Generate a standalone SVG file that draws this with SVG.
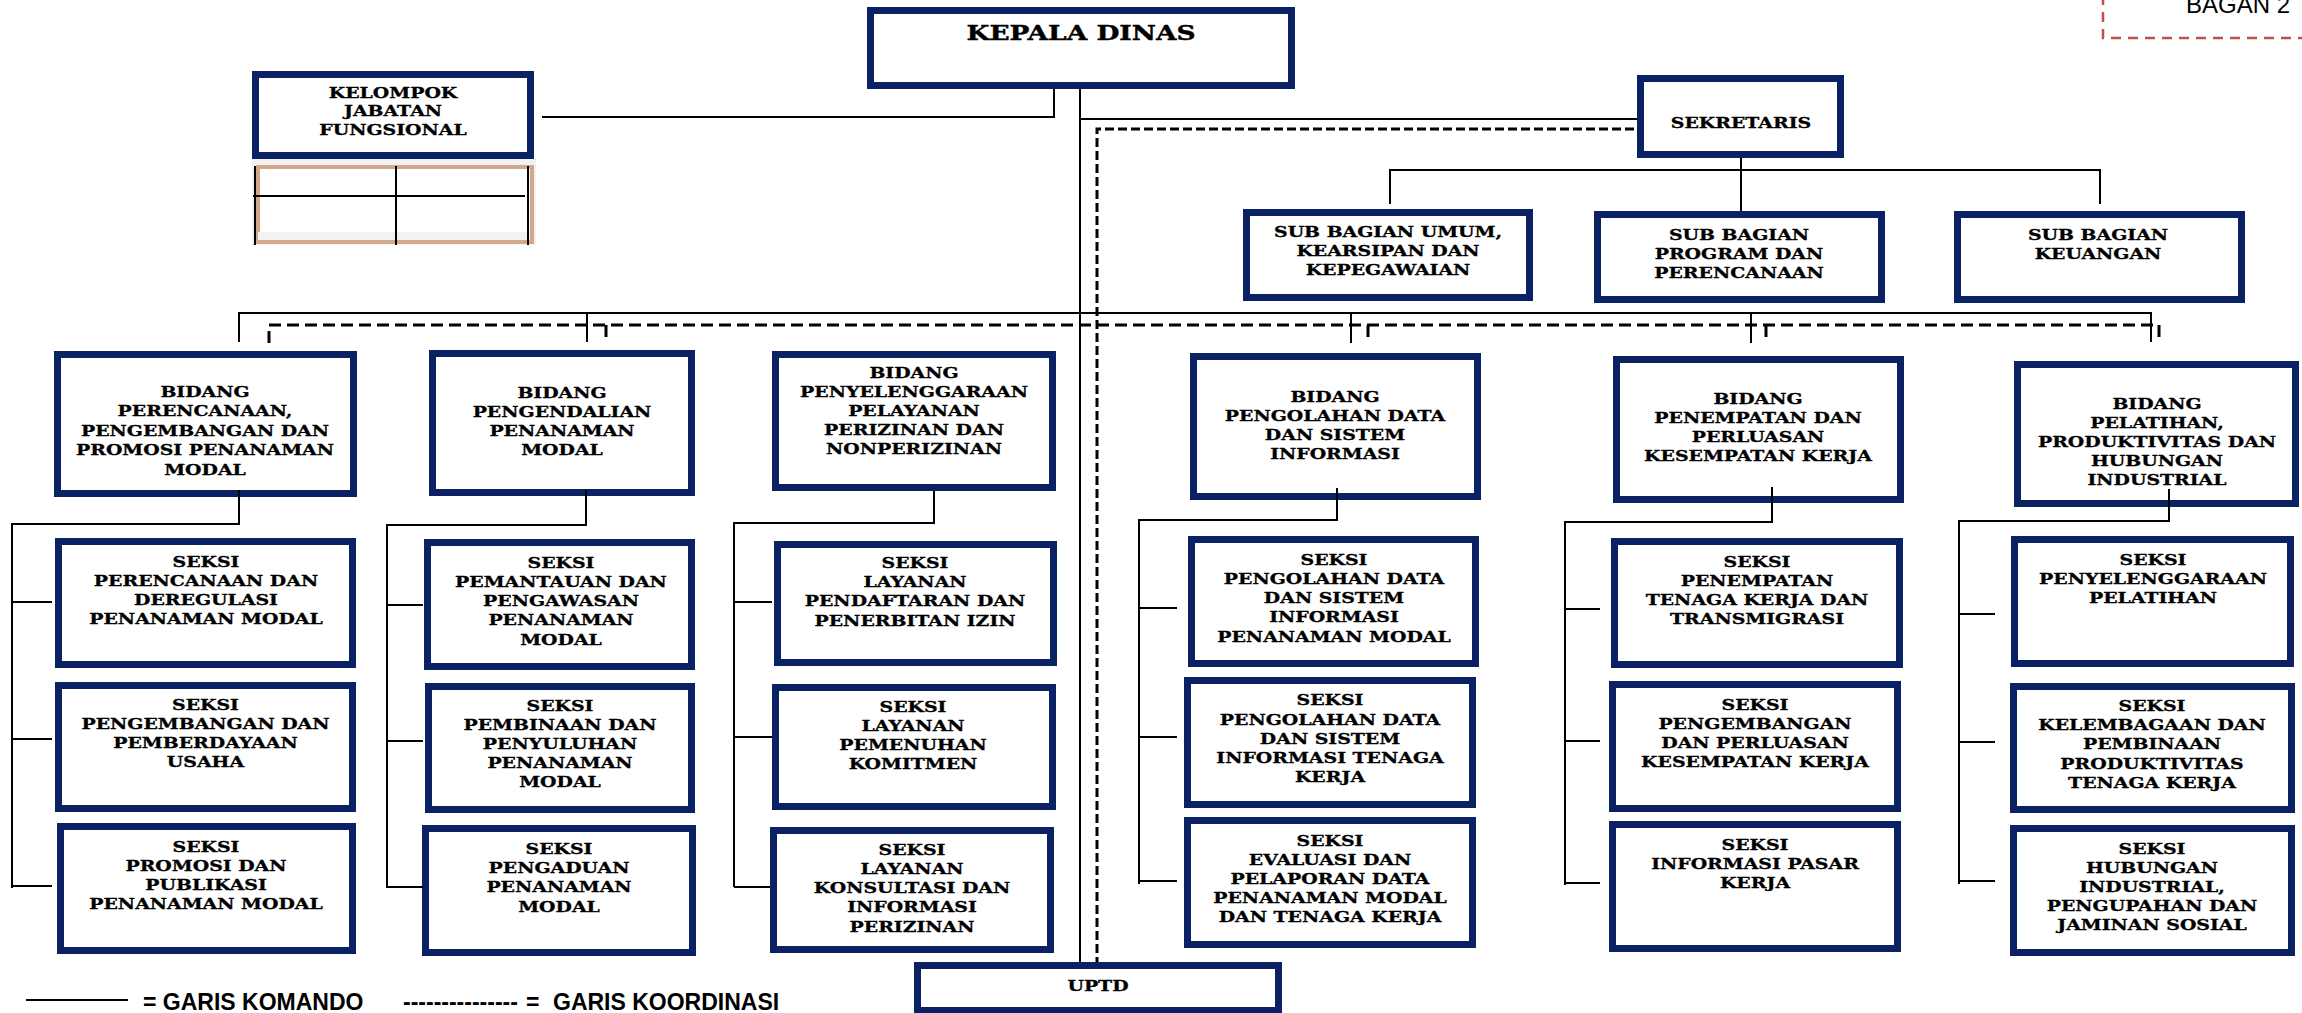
<svg xmlns="http://www.w3.org/2000/svg" width="2302" height="1013" viewBox="0 0 2302 1013">
<style>
.box{fill:#fff;stroke:#0a2263;stroke-width:7}
.n{font-family:"DejaVu Serif","Liberation Serif",serif;font-weight:bold;font-size:15px;text-anchor:middle;fill:#000;stroke:#000;stroke-width:0.3}
.big{font-size:21px;stroke-width:0.4}
.c{fill:none;stroke:#000;stroke-width:2}
.d{fill:none;stroke:#000;stroke-width:3;stroke-dasharray:9 4}
.d2{fill:none;stroke:#000;stroke-width:3;stroke-dasharray:12 6}
.lg{font-family:"Liberation Sans",Arial,sans-serif;font-weight:bold;font-size:23px;fill:#000}
</style>
<rect width="2302" height="1013" fill="#fff"/>

<g id="bagan-label">
<path d="M2103,-5 V38 H2310" fill="none" stroke="#c0504d" stroke-width="2.5" stroke-dasharray="10 7"/>
<text x="2186" y="13" font-family="Liberation Sans,Arial,sans-serif" font-size="24" fill="#000">BAGAN 2</text>
</g>

<g id="kepala-dinas">
<rect class="box" x="870.5" y="10.5" width="421" height="75"/>
<text class="n big" transform="matrix(1.26 0 0 1 1081 0)"><tspan x="0" y="40">KEPALA DINAS</tspan></text>
</g>

<g id="kelompok-jabatan-fungsional">
<rect class="box" x="255.5" y="74.5" width="275" height="81"/>
<text class="n" transform="matrix(1.26 0 0 1 393 0)"><tspan x="0" y="98">KELOMPOK</tspan><tspan x="0" y="116.5">JABATAN</tspan><tspan x="0" y="135">FUNGSIONAL</tspan></text>
<rect x="252" y="159" width="284" height="86" fill="#f2f2f2"/>
<rect x="258" y="167" width="274" height="75" fill="#fff" stroke="#d2a88a" stroke-width="4"/>
<rect x="258" y="232" width="272" height="8" fill="#f2f2f2"/>
<path d="M255,166 V245 M396,166 V245 M528,166 V245 M253,196 H525" fill="none" stroke="#000" stroke-width="2"/>
</g>

<g id="sekretaris">
<rect class="box" x="1640.5" y="78.5" width="200" height="76"/>
<text class="n" transform="matrix(1.26 0 0 1 1741 0)"><tspan x="0" y="128">SEKRETARIS</tspan></text>
</g>

<g id="sub-bagian-umum">
<rect class="box" x="1246.5" y="212.5" width="283" height="85"/>
<text class="n" transform="matrix(1.26 0 0 1 1388 0)"><tspan x="0" y="237">SUB BAGIAN UMUM,</tspan><tspan x="0" y="256">KEARSIPAN DAN</tspan><tspan x="0" y="275">KEPEGAWAIAN</tspan></text>
</g>
<g id="sub-bagian-program">
<rect class="box" x="1597.5" y="214.5" width="284" height="85"/>
<text class="n" transform="matrix(1.26 0 0 1 1739 0)"><tspan x="0" y="240">SUB BAGIAN</tspan><tspan x="0" y="259">PROGRAM DAN</tspan><tspan x="0" y="278">PERENCANAAN</tspan></text>
</g>
<g id="sub-bagian-keuangan">
<rect class="box" x="1957.5" y="214.5" width="284" height="85"/>
<text class="n" transform="matrix(1.26 0 0 1 2098 0)"><tspan x="0" y="240">SUB BAGIAN</tspan><tspan x="0" y="259">KEUANGAN</tspan></text>
</g>

<g id="bidang-1">
<rect class="box" x="57.5" y="354.5" width="296" height="139"/>
<text class="n" transform="matrix(1.26 0 0 1 205 0)"><tspan x="0" y="397">BIDANG</tspan><tspan x="0" y="416.5">PERENCANAAN,</tspan><tspan x="0" y="436">PENGEMBANGAN DAN</tspan><tspan x="0" y="455.5">PROMOSI PENANAMAN</tspan><tspan x="0" y="475">MODAL</tspan></text>
</g>
<g id="bidang-2">
<rect class="box" x="432.5" y="353.5" width="259" height="139"/>
<text class="n" transform="matrix(1.26 0 0 1 562 0)"><tspan x="0" y="398">BIDANG</tspan><tspan x="0" y="417">PENGENDALIAN</tspan><tspan x="0" y="436">PENANAMAN</tspan><tspan x="0" y="455">MODAL</tspan></text>
</g>
<g id="bidang-3">
<rect class="box" x="775.5" y="354.5" width="277" height="133"/>
<text class="n" transform="matrix(1.26 0 0 1 914 0)"><tspan x="0" y="378">BIDANG</tspan><tspan x="0" y="397">PENYELENGGARAAN</tspan><tspan x="0" y="416">PELAYANAN</tspan><tspan x="0" y="435">PERIZINAN DAN</tspan><tspan x="0" y="454">NONPERIZINAN</tspan></text>
</g>
<g id="bidang-4">
<rect class="box" x="1193.5" y="356.5" width="284" height="140"/>
<text class="n" transform="matrix(1.26 0 0 1 1335 0)"><tspan x="0" y="402">BIDANG</tspan><tspan x="0" y="421">PENGOLAHAN DATA</tspan><tspan x="0" y="440">DAN SISTEM</tspan><tspan x="0" y="459">INFORMASI</tspan></text>
</g>
<g id="bidang-5">
<rect class="box" x="1616.5" y="359.5" width="284" height="140"/>
<text class="n" transform="matrix(1.26 0 0 1 1758 0)"><tspan x="0" y="404">BIDANG</tspan><tspan x="0" y="423">PENEMPATAN DAN</tspan><tspan x="0" y="442">PERLUASAN</tspan><tspan x="0" y="461">KESEMPATAN KERJA</tspan></text>
</g>
<g id="bidang-6">
<rect class="box" x="2017.5" y="364.5" width="278" height="139"/>
<text class="n" transform="matrix(1.26 0 0 1 2157 0)"><tspan x="0" y="409">BIDANG</tspan><tspan x="0" y="428">PELATIHAN,</tspan><tspan x="0" y="447">PRODUKTIVITAS DAN</tspan><tspan x="0" y="466">HUBUNGAN</tspan><tspan x="0" y="485">INDUSTRIAL</tspan></text>
</g>

<g id="seksi-1a">
<rect class="box" x="58.5" y="541.5" width="294" height="123"/>
<text class="n" transform="matrix(1.26 0 0 1 206 0)"><tspan x="0" y="567">SEKSI</tspan><tspan x="0" y="586">PERENCANAAN DAN</tspan><tspan x="0" y="605">DEREGULASI</tspan><tspan x="0" y="624">PENANAMAN MODAL</tspan></text>
</g>
<g id="seksi-1b">
<rect class="box" x="58.5" y="685.5" width="294" height="123"/>
<text class="n" transform="matrix(1.26 0 0 1 205.5 0)"><tspan x="0" y="710">SEKSI</tspan><tspan x="0" y="729">PENGEMBANGAN DAN</tspan><tspan x="0" y="748">PEMBERDAYAAN</tspan><tspan x="0" y="767.5">USAHA</tspan></text>
</g>
<g id="seksi-1c">
<rect class="box" x="60.5" y="826.5" width="292" height="124"/>
<text class="n" transform="matrix(1.26 0 0 1 206 0)"><tspan x="0" y="852">SEKSI</tspan><tspan x="0" y="871">PROMOSI DAN</tspan><tspan x="0" y="890">PUBLIKASI</tspan><tspan x="0" y="909">PENANAMAN MODAL</tspan></text>
</g>

<g id="seksi-2a">
<rect class="box" x="427.5" y="542.5" width="264" height="124"/>
<text class="n" transform="matrix(1.26 0 0 1 561 0)"><tspan x="0" y="568">SEKSI</tspan><tspan x="0" y="587">PEMANTAUAN DAN</tspan><tspan x="0" y="606">PENGAWASAN</tspan><tspan x="0" y="625.5">PENANAMAN</tspan><tspan x="0" y="645">MODAL</tspan></text>
</g>
<g id="seksi-2b">
<rect class="box" x="428.5" y="686.5" width="263" height="123"/>
<text class="n" transform="matrix(1.26 0 0 1 560 0)"><tspan x="0" y="711">SEKSI</tspan><tspan x="0" y="730">PEMBINAAN DAN</tspan><tspan x="0" y="749">PENYULUHAN</tspan><tspan x="0" y="768.5">PENANAMAN</tspan><tspan x="0" y="787.5">MODAL</tspan></text>
</g>
<g id="seksi-2c">
<rect class="box" x="425.5" y="828.5" width="267" height="124"/>
<text class="n" transform="matrix(1.26 0 0 1 559 0)"><tspan x="0" y="854">SEKSI</tspan><tspan x="0" y="873">PENGADUAN</tspan><tspan x="0" y="892">PENANAMAN</tspan><tspan x="0" y="912">MODAL</tspan></text>
</g>

<g id="seksi-3a">
<rect class="box" x="777.5" y="544.5" width="276" height="118"/>
<text class="n" transform="matrix(1.26 0 0 1 915 0)"><tspan x="0" y="568">SEKSI</tspan><tspan x="0" y="587">LAYANAN</tspan><tspan x="0" y="606">PENDAFTARAN DAN</tspan><tspan x="0" y="626">PENERBITAN IZIN</tspan></text>
</g>
<g id="seksi-3b">
<rect class="box" x="775.5" y="687.5" width="277" height="119"/>
<text class="n" transform="matrix(1.26 0 0 1 913 0)"><tspan x="0" y="712">SEKSI</tspan><tspan x="0" y="731">LAYANAN</tspan><tspan x="0" y="750">PEMENUHAN</tspan><tspan x="0" y="769">KOMITMEN</tspan></text>
</g>
<g id="seksi-3c">
<rect class="box" x="773.5" y="830.5" width="277" height="119"/>
<text class="n" transform="matrix(1.26 0 0 1 912 0)"><tspan x="0" y="855">SEKSI</tspan><tspan x="0" y="874">LAYANAN</tspan><tspan x="0" y="893">KONSULTASI DAN</tspan><tspan x="0" y="912.5">INFORMASI</tspan><tspan x="0" y="932">PERIZINAN</tspan></text>
</g>

<g id="seksi-4a">
<rect class="box" x="1191.5" y="539.5" width="284" height="124"/>
<text class="n" transform="matrix(1.26 0 0 1 1334 0)"><tspan x="0" y="565">SEKSI</tspan><tspan x="0" y="584">PENGOLAHAN DATA</tspan><tspan x="0" y="603">DAN SISTEM</tspan><tspan x="0" y="622.5">INFORMASI</tspan><tspan x="0" y="642">PENANAMAN MODAL</tspan></text>
</g>
<g id="seksi-4b">
<rect class="box" x="1187.5" y="680.5" width="285" height="124"/>
<text class="n" transform="matrix(1.26 0 0 1 1330 0)"><tspan x="0" y="705">SEKSI</tspan><tspan x="0" y="725">PENGOLAHAN DATA</tspan><tspan x="0" y="744">DAN SISTEM</tspan><tspan x="0" y="763">INFORMASI TENAGA</tspan><tspan x="0" y="782">KERJA</tspan></text>
</g>
<g id="seksi-4c">
<rect class="box" x="1187.5" y="820.5" width="285" height="124"/>
<text class="n" transform="matrix(1.26 0 0 1 1330 0)"><tspan x="0" y="846">SEKSI</tspan><tspan x="0" y="865">EVALUASI DAN</tspan><tspan x="0" y="884">PELAPORAN DATA</tspan><tspan x="0" y="903">PENANAMAN MODAL</tspan><tspan x="0" y="922">DAN TENAGA KERJA</tspan></text>
</g>

<g id="seksi-5a">
<rect class="box" x="1614.5" y="541.5" width="285" height="123"/>
<text class="n" transform="matrix(1.26 0 0 1 1757 0)"><tspan x="0" y="567">SEKSI</tspan><tspan x="0" y="586">PENEMPATAN</tspan><tspan x="0" y="605">TENAGA KERJA DAN</tspan><tspan x="0" y="624">TRANSMIGRASI</tspan></text>
</g>
<g id="seksi-5b">
<rect class="box" x="1612.5" y="684.5" width="285" height="124"/>
<text class="n" transform="matrix(1.26 0 0 1 1755 0)"><tspan x="0" y="710">SEKSI</tspan><tspan x="0" y="729">PENGEMBANGAN</tspan><tspan x="0" y="748">DAN PERLUASAN</tspan><tspan x="0" y="767">KESEMPATAN KERJA</tspan></text>
</g>
<g id="seksi-5c">
<rect class="box" x="1612.5" y="824.5" width="285" height="124"/>
<text class="n" transform="matrix(1.26 0 0 1 1755 0)"><tspan x="0" y="850">SEKSI</tspan><tspan x="0" y="869">INFORMASI PASAR</tspan><tspan x="0" y="888">KERJA</tspan></text>
</g>

<g id="seksi-6a">
<rect class="box" x="2014.5" y="539.5" width="276" height="124"/>
<text class="n" transform="matrix(1.26 0 0 1 2153 0)"><tspan x="0" y="565">SEKSI</tspan><tspan x="0" y="584">PENYELENGGARAAN</tspan><tspan x="0" y="603">PELATIHAN</tspan></text>
</g>
<g id="seksi-6b">
<rect class="box" x="2013.5" y="686.5" width="278" height="123"/>
<text class="n" transform="matrix(1.26 0 0 1 2152 0)"><tspan x="0" y="711">SEKSI</tspan><tspan x="0" y="730">KELEMBAGAAN DAN</tspan><tspan x="0" y="749.5">PEMBINAAN</tspan><tspan x="0" y="769">PRODUKTIVITAS</tspan><tspan x="0" y="788">TENAGA KERJA</tspan></text>
</g>
<g id="seksi-6c">
<rect class="box" x="2013.5" y="828.5" width="278" height="124"/>
<text class="n" transform="matrix(1.26 0 0 1 2152 0)"><tspan x="0" y="854">SEKSI</tspan><tspan x="0" y="873">HUBUNGAN</tspan><tspan x="0" y="892">INDUSTRIAL,</tspan><tspan x="0" y="911">PENGUPAHAN DAN</tspan><tspan x="0" y="930">JAMINAN SOSIAL</tspan></text>
</g>

<g id="uptd">
<rect class="box" x="917.5" y="965.5" width="361" height="45"/>
<text class="n" transform="matrix(1.26 0 0 1 1098 0)"><tspan x="0" y="991">UPTD</tspan></text>
</g>

<g id="connectors">
<path class="c" d="M1054,89 V117 H542"/>
<path class="c" d="M1080,89 V962"/>
<path class="c" d="M1080,119 H1637"/>
<path class="c" d="M1741,158 V211"/>
<path class="c" d="M1390,204 V170 H2100 V204"/>
<path class="c" d="M239,342 V313 H2151 V342 M587,313 V342 M1351,313 V343 M1751,313 V343"/>
<path class="d" d="M1634,129 H1097 V962"/>
<path class="d2" d="M269,343 V325 H2159 V343 M606,325 V343 M1368,325 V343 M1766,325 V343"/>
<path class="c" d="M239,490 V524 H12 V888 M12,602 H52 M12,739 H52 M12,886 H52"/>
<path class="c" d="M586,490 V525 H387 V888 M387,605 H423 M387,741 H423 M387,887 H423"/>
<path class="c" d="M934,491 V523 H734 V887 M734,602 H772 M734,737 H772 M734,887 H770"/>
<path class="c" d="M1337,488 V520 H1139 V884 M1139,608 H1177 M1139,737 H1177 M1139,881 H1177"/>
<path class="c" d="M1772,487 V522 H1565 V885 M1565,609 H1600 M1565,741 H1600 M1565,883 H1600"/>
<path class="c" d="M2169,489 V521 H1959 V884 M1959,614 H1995 M1959,742 H1995 M1959,881 H1995"/>
</g>

<g id="legend">
<path class="c" d="M26,1000 H128"/>
<text class="lg" x="143" y="1010">= GARIS KOMANDO</text>
<text class="lg" x="403" y="1010">---------------</text>
<text class="lg" x="526" y="1010">=</text>
<text class="lg" x="553" y="1010">GARIS KOORDINASI</text>
</g>
</svg>
